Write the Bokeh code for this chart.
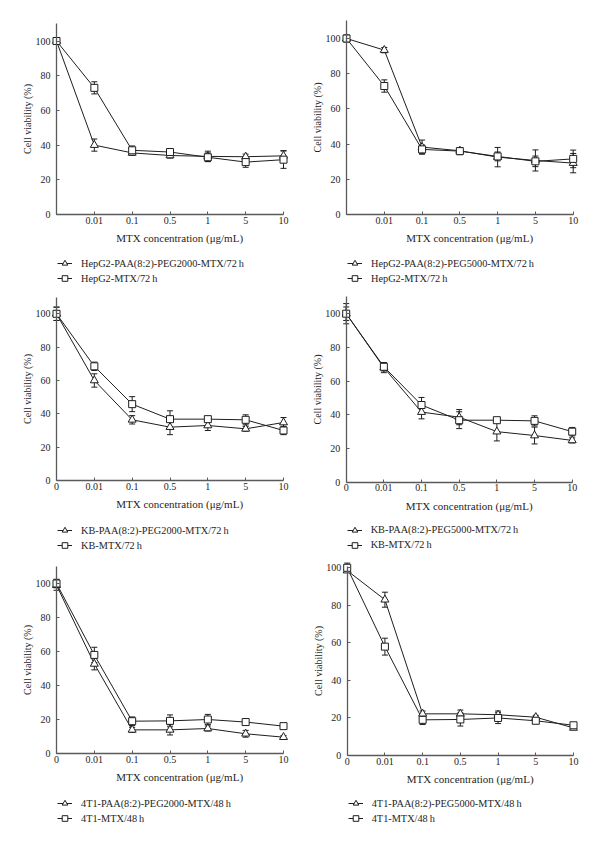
from bokeh.plotting import figure
from bokeh.models import (ColumnDataSource, Whisker, TeeHead, Range1d, FixedTicker,
                          Legend)
from bokeh.layouts import column, row
from bokeh.embed import file_html
from bokeh.resources import INLINE

# ---------------- data ----------------
x_labels = ["0", "0.01", "0.1", "0.5", "1", "5", "10"]

hepg2_mtx_72h = [100, 73, 37, 36, 33, 30.2, 31.6]
hepg2_mtx_72h_err = [1.5, 3.5, 2.5, 2, 2.5, 3, 5]
hepg2_peg2000_72h = [100, 40, 35.5, 34, 33.5, 33.3, 33.8]
hepg2_peg2000_72h_err = [1, 3.5, 1.5, 1.5, 3, 1.5, 3]
hepg2_peg5000_72h = [100, 93.4, 38.3, 36.2, 32.6, 30.7, 29.2]
hepg2_peg5000_72h_err = [2, 1.5, 4, 1.5, 5.5, 6, 5.5]

kb_mtx_72h = [100, 68.5, 45.8, 36.8, 36.8, 36.4, 30]
kb_mtx_72h_err = [4, 2.5, 4.5, 5, 1.5, 3, 2.5]
kb_peg2000_72h = [100, 60, 36.4, 32, 33, 31, 34.8]
kb_peg2000_72h_err = [4, 4, 2.5, 4.5, 3, 1.5, 3]
kb_peg5000_72h = [100, 68, 41.6, 38.6, 30, 27.7, 24.8]
kb_peg5000_72h_err = [6, 3, 4, 4.5, 5.5, 5, 1.5]

t41_mtx_48h = [100, 58, 19, 19.2, 20, 18.5, 16.1]
t41_mtx_48h_err = [2.5, 4.5, 2.5, 3.5, 3, 1.5, 1]
t41_peg2000_48h = [99, 52.7, 13.9, 13.9, 14.7, 11.6, 9.6]
t41_peg2000_48h_err = [3, 3.5, 1.5, 3, 1.5, 2, 1]
t41_peg5000_48h = [98.5, 83, 22.2, 22.2, 21.7, 20.4, 14.7]
t41_peg5000_48h_err = [1, 4, 1.5, 2, 2, 1, 1]

y_ticks = [0, 20, 40, 60, 80, 100]

X_TITLE = "MTX concentration (\u03bcg/mL)"
Y_TITLE = "Cell viability (%)"

FONT = "Liberation Serif"
INK = "#1e1e1e"
AXIS = "#5a5a5a"


def make_panel(tri, tri_err, sq, sq_err, tri_label, sq_label, show_zero,
               width, height, ax_px, right_px, y0_px, y100_px, ytop, leg_d):
    """ax_px/right_px: screen x of categories 0 and 10; y0_px/y100_px: screen y of 0 and 100."""
    xs = list(range(len(x_labels)))
    k = (right_px - ax_px) / 6.0
    s = (y0_px - y100_px) / 100.0
    xr = Range1d(-ax_px / k, (width - ax_px) / k)
    yr = Range1d(-(height - y0_px) / s, y0_px / s)
    p = figure(width=width, height=height, output_backend="svg",
               toolbar_location=None, x_range=xr, y_range=yr,
               min_border=0, min_border_left=0, min_border_right=0,
               min_border_top=0, min_border_bottom=0)
    p.outline_line_color = None
    p.xgrid.visible = False
    p.ygrid.visible = False
    p.background_fill_color = "white"
    p.border_fill_color = "white"

    for ax in (p.xaxis[0], p.yaxis[0]):
        ax.fixed_location = 0
        ax.axis_line_color = AXIS
        ax.axis_line_width = 1.3
        ax.major_tick_line_color = AXIS
        ax.major_tick_in = 3
        ax.major_tick_out = 0
        ax.minor_tick_line_color = None
        ax.major_label_text_font = FONT
        ax.major_label_text_font_size = "10px"
        ax.major_label_text_color = INK
        ax.axis_label_text_font = FONT
        ax.axis_label_text_font_style = "normal"
        ax.axis_label_text_color = INK

    xa = p.xaxis[0]
    xa.ticker = FixedTicker(ticks=xs)
    overrides = {i: lab for i, lab in enumerate(x_labels)}
    if not show_zero:
        overrides[0] = ""
    xa.major_label_overrides = overrides
    xa.bounds = (0, 6)
    xa.major_label_standoff = 2
    # the title sits a little right of the axis centre in the original
    xa.axis_label = "\u00a0" * 7 + X_TITLE
    xa.axis_label_text_font_size = "11px"
    xa.axis_label_standoff = 5

    ya = p.yaxis[0]
    ya.ticker = FixedTicker(ticks=y_ticks)
    ya.bounds = (0, ytop)
    ya.major_label_standoff = 6
    ya.axis_label = Y_TITLE
    ya.axis_label_text_font_size = "10px"
    ya.axis_label_standoff = 0

    src_t = ColumnDataSource(dict(x=xs, y=tri,
                                  lo=[v - e for v, e in zip(tri, tri_err)],
                                  up=[v + e for v, e in zip(tri, tri_err)]))
    src_s = ColumnDataSource(dict(x=xs, y=sq,
                                  lo=[v - e for v, e in zip(sq, sq_err)],
                                  up=[v + e for v, e in zip(sq, sq_err)]))
    for src in (src_t, src_s):
        p.add_layout(Whisker(source=src, base="x", lower="lo", upper="up",
                             line_color=INK, line_width=1,
                             lower_head=TeeHead(size=6, line_color=INK, line_width=1),
                             upper_head=TeeHead(size=6, line_color=INK, line_width=1)))

    lt = p.line("x", "y", source=src_t, line_color=INK, line_width=1)
    ls = p.line("x", "y", source=src_s, line_color=INK, line_width=1)
    mt = p.scatter("x", "y", source=src_t, marker="triangle", size=8,
                   fill_color="white", line_color=INK, line_width=1)
    ms = p.scatter("x", "y", source=src_s, marker="square", size=7,
                   fill_color="white", line_color=INK, line_width=1)

    legend = Legend(items=[(tri_label, [lt, mt]), (sq_label, [ls, ms])],
                    location=(ax_px + 1, height - (y0_px + leg_d + 22)),
                    margin=0, padding=0, spacing=1,
                    glyph_width=15, glyph_height=14, label_height=14,
                    label_standoff=9,
                    label_text_font=FONT, label_text_font_size="10.3px",
                    label_text_color=INK,
                    border_line_color=None, background_fill_alpha=0)
    p.add_layout(legend, "center")
    return p


p1 = make_panel(hepg2_peg2000_72h, hepg2_peg2000_72h_err, hepg2_mtx_72h, hepg2_mtx_72h_err,
                "HepG2-PAA(8:2)-PEG2000-MTX/72\u2009h", "HepG2-MTX/72\u2009h", False,
                300, 285, 56, 283, 214, 40.5, 110, 49)
p2 = make_panel(hepg2_peg5000_72h, hepg2_peg5000_72h_err, hepg2_mtx_72h, hepg2_mtx_72h_err,
                "HepG2-PAA(8:2)-PEG5000-MTX/72\u2009h", "HepG2-MTX/72\u2009h", False,
                300, 285, 46, 272.7, 214, 38, 110, 49)
p3 = make_panel(kb_peg2000_72h, kb_peg2000_72h_err, kb_mtx_72h, kb_mtx_72h_err,
                "KB-PAA(8:2)-PEG2000-MTX/72\u2009h", "KB-MTX/72\u2009h", True,
                300, 270, 56, 283, 195, 28.3, 110, 50)
p4 = make_panel(kb_peg5000_72h, kb_peg5000_72h_err, kb_mtx_72h, kb_mtx_72h_err,
                "KB-PAA(8:2)-PEG5000-MTX/72\u2009h", "KB-MTX/72\u2009h", True,
                300, 270, 45.7, 271.7, 196.7, 28.2, 110, 48)
p5 = make_panel(t41_peg2000_48h, t41_peg2000_48h_err, t41_mtx_48h, t41_mtx_48h_err,
                "4T1-PAA(8:2)-PEG2000-MTX/48\u2009h", "4T1-MTX/48\u2009h", True,
                300, 290, 56, 283, 198, 28, 110, 50)
p6 = make_panel(t41_peg5000_48h, t41_peg5000_48h_err, t41_mtx_48h, t41_mtx_48h_err,
                "4T1-PAA(8:2)-PEG5000-MTX/48\u2009h", "4T1-MTX/48\u2009h", True,
                300, 290, 46.7, 273, 200, 12.3, 100.5, 48)

layout = column(row(p1, p2, spacing=0), row(p3, p4, spacing=0),
                row(p5, p6, spacing=0), spacing=0)

open("out.html", "w").write(file_html(layout, INLINE))
